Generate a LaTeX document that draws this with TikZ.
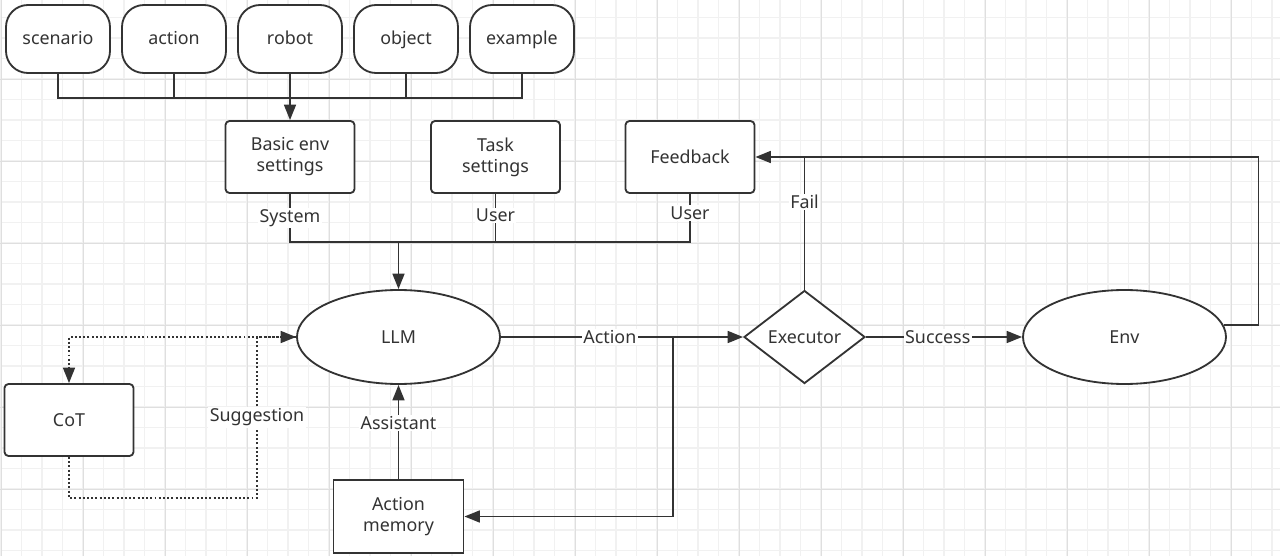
\documentclass[tikz,border=0pt]{standalone}
\usepackage{fontspec}
\setmainfont{Noto Sans}
\usetikzlibrary{shapes.geometric, arrows.meta}
\definecolor{ink}{HTML}{333333}
\definecolor{gridminor}{HTML}{F1F1F1}
\definecolor{gridmajor}{HTML}{DFDFDF}
\tikzstyle{item} = [rectangle, rounded corners=0.55cm, minimum width=2.6cm, minimum height=1.7cm, text height=0.95em, text depth=0.2em, text centered, draw=ink, fill=white, text=ink, line width=1.3pt]
\tikzstyle{setting} = [rectangle, rounded corners=0.1cm, minimum width=3.225cm, minimum height=1.8cm, text centered, align=center, draw=ink, fill=white, text=ink, line width=1.3pt]
\tikzstyle{memory} = [rectangle, minimum width=3.25cm, minimum height=1.825cm, text centered, align=center, draw=ink, fill=white, text=ink, line width=1.3pt]
\tikzstyle{model} = [ellipse, minimum width=5.075cm, minimum height=2.35cm, text centered, draw=ink, fill=white, text=ink, line width=1.3pt]
\tikzstyle{decision} = [diamond, minimum width=3.025cm, minimum height=2.325cm, inner sep=0pt, text centered, draw=ink, fill=white, text=ink, line width=1.3pt]
\tikzstyle{link} = [draw=ink, line width=1.3pt]
\tikzstyle{edge} = [link, -{Triangle[length=11pt, width=8.5pt]}]
\tikzstyle{dotedge} = [edge, dash pattern=on 1.4pt off 1.6pt]
\tikzstyle{tag} = [fill=white, inner sep=1pt, text=ink]

\begin{document}
\begin{tikzpicture}[node distance=2.9cm, font=\fontsize{12.7}{15}\selectfont]

\useasboundingbox (0,0) rectangle (32,13.9);
\fill [white] (0,0) rectangle (32,13.9);
\begin{scope}
\clip (0,0) rectangle (32,13.9);
\foreach \i in {0,...,62} \draw [gridminor, line width=1.1pt] ({0.025+0.5125*\i},0) -- ++(0,13.9);
\foreach \j in {1,...,27} \draw [gridminor, line width=1.1pt] (0,{13.9-(-3+20.5*\j)/40}) -- ++(32,0);
\foreach \i in {0,...,15} \draw [gridmajor, line width=0.7pt] ({0.025+2.05*\i},0) -- ++(0,13.9);
\foreach \j in {1,...,6} \draw [gridmajor, line width=0.7pt] (0,{13.9-(-3+82*\j)/40}) -- ++(32,0);
\end{scope}

\node (scenario) [item] at (1.45,12.925) {scenario};
\node (action) [item, right of=scenario] {action};
\node (robot) [item, right of=action] {robot};
\node (object) [item, right of=robot] {object};
\node (example) [item, right of=object] {example};
\node (basic) [setting, below of=robot, yshift=-0.05cm] {Basic env\\settings};
\node (task) [setting, right of=basic, xshift=2.2375cm] {Task\\settings};
\node (feedback) [setting, right of=task, xshift=1.9625cm] {Feedback};
\node (llm) [model, below of=basic, yshift=-1.6cm, xshift=2.7125cm] {LLM};
\node (memory) [memory, below of=llm, yshift=-1.5875cm] {Action\\memory};
\node (cot) [setting, left of=llm, xshift=-5.3375cm, yshift=-2.075cm] {CoT};
\node (exec) [decision, right of=llm, xshift=7.25cm] {Executor};
\node (env) [model, right of=exec, xshift=5.1cm] {Env};

\path (scenario.south) ++(0,-0.6) coordinate (topbus);
\draw [link] (scenario.south) -- (topbus) -| (example.south);
\draw [link] (action.south) -- (action.south |- topbus);
\draw [link] (object.south) -- (object.south |- topbus);
\draw [edge] (robot.south) -- (basic.north);

\path (basic.south) ++(0,-1.2) coordinate (sysbus);
\draw [link] (basic.south) -- node[tag]{System} (sysbus) -| node[tag, pos=0.8]{User} (feedback.south);
\draw [link] (task.south) -- node[tag, pos=0.45]{User} (task.south |- sysbus);
\draw [edge] (sysbus -| llm.north) -- (llm.north);

\draw [edge] (llm) -- node[tag, pos=0.45]{Action} (exec);
\path (llm.east) -- coordinate[pos=0.71] (branch) (exec.west);
\draw [edge] (branch) |- (memory.east);
\draw [edge] (memory) -- node[tag, pos=0.6]{Assistant} (llm);
\draw [edge] (exec) -- node[tag, pos=0.46]{Success} (env);
\draw [link] (exec.north) -- node[tag, pos=0.66]{Fail} (exec.north |- feedback.east);
\coordinate (envturn) at ([xshift=0.875cm]env.7);
\draw [edge] (env.7) -- (envturn) |- (feedback.east);

\coordinate (sugg) at ([xshift=4.7cm, yshift=-1.025cm]cot.south);
\draw [dotedge] (cot.south) |- (sugg) |- node[tag, pos=0.25]{Suggestion} (llm.west);
\draw [dotedge] (llm.west) -| (cot.north);

\end{tikzpicture}
\end{document}
